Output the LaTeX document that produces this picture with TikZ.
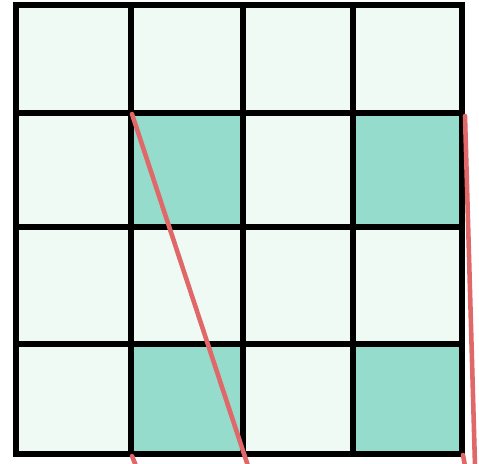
\documentclass[tikz,border=0pt]{standalone}
\usepackage{tikz}

\definecolor{cellpale}{RGB}{240,250,245}
\definecolor{celldark}{RGB}{150,220,204}
\definecolor{cutred}{RGB}{224,104,104}

\begin{document}
\begin{tikzpicture}[
x=0.02cm, y=-0.02cm,
gridline/.style={line width=3.4pt, black, line cap=rect},
cutline/.style={line width=2.6pt, cutred, line cap=round}
]
\useasboundingbox (0,0) rectangle (479,463);
\fill[white] (0,0) rectangle (479,463);

% board
\fill[cellpale] (16,5) rectangle (462,454);
\fill[celldark] (131,113) rectangle (243,227);
\fill[celldark] (353,113) rectangle (462,227);
\fill[celldark] (131,344) rectangle (243,454);
\fill[celldark] (353,344) rectangle (462,454);

% lines of the grid
\foreach \gx in {16,131,243,353,462}
  \draw[gridline] (\gx,5) -- (\gx,454);
\foreach \gy in {5,113,227,344,454}
  \draw[gridline] (16,\gy) -- (462,\gy);

% red cuts
\coordinate (cutA) at (132,114);
\coordinate (cutB) at (248,466);
\coordinate (cutC) at (465,116);
\coordinate (cutD) at (475,466);
\coordinate (stubA) at (132,456);
\coordinate (stubB) at (136,466);
\coordinate (stubC) at (463,455);
\coordinate (stubD) at (465,466);
\draw[cutline] (cutA) -- (cutB);
\draw[cutline] (cutC) -- (cutD);
\draw[cutline] (stubA) -- (stubB);
\draw[cutline] (stubC) -- (stubD);
\end{tikzpicture}
\end{document}
